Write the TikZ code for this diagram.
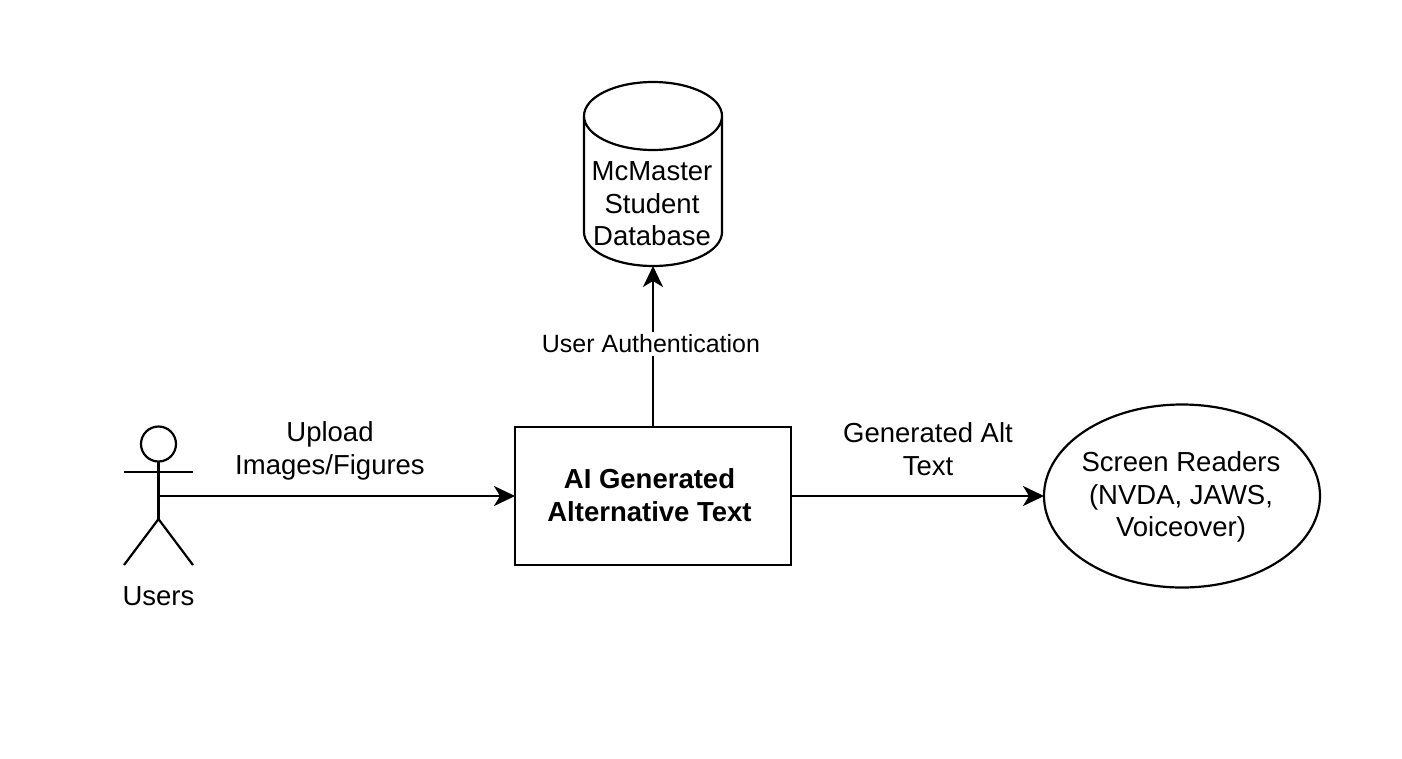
\documentclass[tikz,border=0pt]{standalone}
\usepackage{fontspec}
\setmainfont{Liberation Sans}
\usetikzlibrary{arrows.meta}
\tikzset{
  px/.style={x=1pt,y=-1pt},
  line/.style={draw=black,line width=2.2pt},
  conn/.style={line,-{Stealth[length=21pt,width=20pt,inset=6pt]}},
  lbl/.style={font=\fontsize{27.5}{32.5}\selectfont,align=center,inner sep=0pt,text=black},
}
\begin{document}
\begin{tikzpicture}[px]
\useasboundingbox (0,0) rectangle (1402,758);
\fill[white] (0,0) rectangle (1402,758);
% box
\node[line,minimum width=276pt,minimum height=138pt,inner sep=0pt,outer sep=0pt,anchor=north west] (box) at (515,427) {};
\node[lbl,font=\fontsize{27.5}{32.5}\selectfont\bfseries] (boxt) at (649.5,495) {AI Generated\\Alternative Text};
% ellipse
\coordinate (ec) at (1182,496);
\draw[line] (ec) ellipse [x radius=138,y radius=91.5];
\coordinate (ew) at (1044,496);
\node[lbl] (et) at (1181,497) {Screen Readers\\(NVDA, JAWS,\\Voiceover)};
% cylinder
\draw[line] (584,116) -- (584,232) arc[start angle=180,end angle=360,x radius=69,y radius=-34]
  -- (722,116) arc[start angle=0,end angle=180,x radius=69,y radius=-34]
  arc[start angle=180,end angle=360,x radius=69,y radius=-34];
\coordinate (cyl) at (653,266);
\node[lbl] (ct) at (652,204) {McMaster\\Student\\Database};
% actor
\draw[line] (158.5,444) circle [radius=17.5];
\coordinate (actor) at (158.5,496);
\draw[line] (158.5,461.5) -- (158.5,519);
\draw[line] (124,472) -- (193,472);
\draw[line] (124,565) -- (158.5,519) -- (193,565);
\node[lbl] (ut) at (158.5,596) {Users};
% connectors
\draw[conn] (actor) -- (box.west);
\draw[conn] (box.east) -- (ew);
\draw[conn] (box.north) -- (cyl);
\node[lbl,fill=white,inner ysep=3pt,inner xsep=0pt,font=\fontsize{25}{30}\selectfont] (auth) at (651,344) {User Authentication};
\node[lbl] (up) at (330,451) {Upload\\Images/Figures};
\node[lbl] (gen) at (928,449) {Generated Alt\\Text};
\end{tikzpicture}
\end{document}
